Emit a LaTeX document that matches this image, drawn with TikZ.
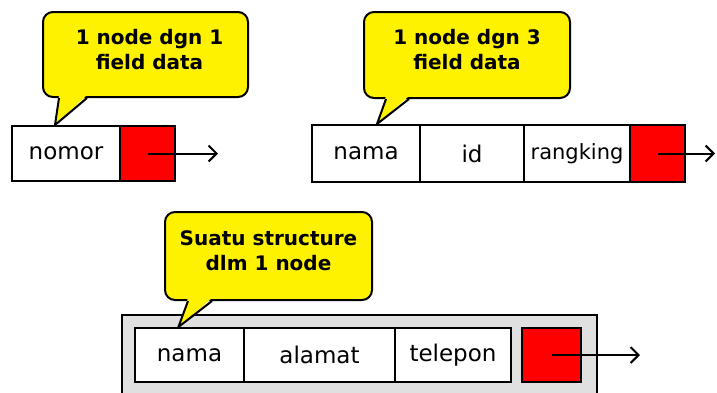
\documentclass[tikz,border=0pt]{standalone}
\usepackage{fontspec}
\setmainfont{DejaVu Sans}
\usetikzlibrary{arrows.meta, calc}
\begin{document}
\begin{tikzpicture}[
      x=1pt, y=-1pt,
      font=\fontsize{23}{27}\selectfont,
      sel/.style={draw, line width=2pt, fill=white, inner sep=0pt},
      merah/.style={sel, fill=red},
      gelembung/.style={draw, line width=2pt, fill=yellow, rounded corners=10pt},
      tekskuning/.style={align=center, yshift=5pt, font=\fontsize{20}{25}\selectfont\bfseries},
      panah/.style={-{Straight Barb[length=8pt, width=16pt]}, line width=2pt}
    ]
      \clip (0,0) rectangle (717,392);
      % baris atas: node dengan 1 field
      \node[sel, minimum width=108, minimum height=55] (nomor) at (66,153.5) {nomor};
      \node[merah, minimum width=55, minimum height=55] (merah1) at (147.5,153.5) {};
      \coordinate (ujung1) at (218,153.5);
      \draw[panah] (merah1.center) -- (ujung1);
      % node dengan 3 field
      \node[sel, minimum width=108, minimum height=57] (nama1) at (366,153.5) {nama};
      \node[sel, minimum width=104, minimum height=57] (id) at (472,153.5) {id};
      \node[sel, minimum width=106, minimum height=57, font=\fontsize{21}{24}\selectfont] (rangking) at (577,153.5) {rangking};
      \node[merah, minimum width=55, minimum height=57] (merah2) at (657.5,153.5) {};
      \coordinate (ujung2) at (715,153.5);
      \draw[panah] (merah2.center) -- (ujung2);
      % structure dalam 1 node
      \node[draw, line width=2pt, fill=black!12, minimum width=475, minimum height=100] (luar) at (359.5,365) {};
      \node[sel, minimum width=109, minimum height=54] (nama2) at (189.5,355) {nama};
      \node[sel, minimum width=151, minimum height=54] (alamat) at (319.5,355) {alamat};
      \node[sel, minimum width=116, minimum height=54] (telepon) at (453,355) {telepon};
      \node[merah, minimum width=59, minimum height=54] (merah3) at (551.5,355) {};
      \coordinate (ujung3) at (640,355);
      \draw[panah] (merah3.center) -- (ujung3);
      % gelembung keterangan
      \node[gelembung, minimum width=205, minimum height=85,
        label={[tekskuning, xshift=4pt]center:{1 node dgn 1\\field data}}] (gel1) at (145.5,54.5) {};
      \node[gelembung, minimum width=206, minimum height=86,
        label={[tekskuning]center:{1 node dgn 3\\field data}}] (gel2) at (467,55) {};
      \node[gelembung, minimum width=207, minimum height=88,
        label={[tekskuning]center:{Suatu structure\\dlm 1 node}}] (gel3) at (268.5,256) {};
      \coordinate (tip1) at ($(nomor.north west)!0.4!(nomor.north east)$);
      \coordinate (tip2) at ($(nama1.north west)!0.6!(nama1.north east)$);
      \coordinate (tip3) at ($(nama2.north west)!0.4!(nama2.north east)$);
      \fill[yellow] ([xshift=17pt, yshift=3pt]gel1.south west) -- (tip1) -- ([xshift=45pt, yshift=3pt]gel1.south west) -- cycle;
      \draw[line width=2pt, line join=round] ([xshift=17pt]gel1.south west) -- (tip1) -- ([xshift=45pt]gel1.south west);
      \fill[yellow] ([xshift=23pt, yshift=3pt]gel2.south west) -- (tip2) -- ([xshift=46pt, yshift=3pt]gel2.south west) -- cycle;
      \draw[line width=2pt, line join=round] ([xshift=23pt]gel2.south west) -- (tip2) -- ([xshift=46pt]gel2.south west);
      \fill[yellow] ([xshift=24pt, yshift=3pt]gel3.south west) -- (tip3) -- ([xshift=48pt, yshift=3pt]gel3.south west) -- cycle;
      \draw[line width=2pt, line join=round] ([xshift=24pt]gel3.south west) -- (tip3) -- ([xshift=48pt]gel3.south west);
    \end{tikzpicture}
\end{document}
